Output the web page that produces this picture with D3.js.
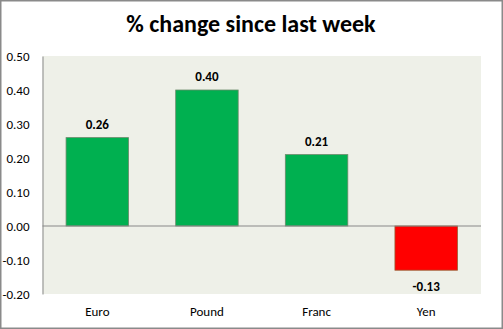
<!DOCTYPE html>
<html><head><meta charset="utf-8">
<script src="https://cdn.jsdelivr.net/npm/d3@7"></script>
<style>body{margin:0;background:#fff}svg{display:block}</style>
</head><body>
<script>
const categories = ["Euro","Pound","Franc","Yen"];
const values = [0.26, 0.40, 0.21, -0.13];
const yTicks = [-0.20,-0.10,0.00,0.10,0.20,0.30,0.40,0.50];
const title = "% change since last week";

(function(){
const W = 503, H = 329;
const font = "Calibri, Carlito, Lato, sans-serif";
const fmt = v => d3.format(".2f")(v).replace("\u2212","-");
const svg = d3.select("body").append("svg").attr("width", W).attr("height", H);
svg.append("rect").attr("x",0.75).attr("y",0.75).attr("width",W-1.5).attr("height",H-1.5)
  .attr("fill","#fff").attr("stroke","#8a8a8a").attr("stroke-width",1.5);

const pL = 42.5, pR = 481, pT = 56, pB = 294;
const x = d3.scaleBand().domain(categories).range([pL, pR]).paddingInner(0.43).paddingOuter(0.215);
const y = d3.scaleLinear().domain([-0.2, 0.5]).range([pB, pT]);

svg.append("rect").attr("x",pL).attr("y",pT).attr("width",pR-pL).attr("height",pB-pT).attr("fill","#eef0e8");

svg.append("text").attr("x", 251).attr("y", 32).attr("text-anchor","middle")
  .attr("font-family",font).attr("font-weight","bold").attr("font-size",24).attr("fill","#000").text(title);

const yAxis = svg.append("g").attr("transform",`translate(${pL},0)`)
  .call(d3.axisLeft(y).tickValues(yTicks).tickSize(0).tickPadding(13).tickFormat(fmt));
yAxis.select(".domain").attr("stroke","#888");
yAxis.selectAll("text").attr("font-family",font).attr("font-size",13).attr("fill","#000");

svg.selectAll("rect.bar").data(values).join("rect").attr("class","bar")
  .attr("x",(d,i)=>x(categories[i])).attr("width",x.bandwidth())
  .attr("y",d=>y(Math.max(0,d))).attr("height",d=>Math.abs(y(d)-y(0)))
  .attr("fill",d=>d>=0?"#00b050":"#ff0000")
  .attr("stroke",d=>d>=0?"#6a8a6a":"#9a5a30").attr("stroke-width",0.8);

svg.append("line").attr("x1",pL).attr("x2",pR).attr("y1",y(0)).attr("y2",y(0)).attr("stroke","#888");

svg.selectAll("text.lbl").data(values).join("text").attr("class","lbl")
  .attr("x",(d,i)=>x(categories[i])+x.bandwidth()/2)
  .attr("y",d=>d>=0?y(d)-9:y(d)+21)
  .attr("text-anchor","middle").attr("font-family",font).attr("font-weight","bold").attr("font-size",13)
  .text(fmt);

svg.selectAll("text.cat").data(categories).join("text").attr("class","cat")
  .attr("x",d=>x(d)+x.bandwidth()/2).attr("y",316)
  .attr("text-anchor","middle").attr("font-family",font).attr("font-size",13).text(d=>d);
})();
</script>
</body></html>
